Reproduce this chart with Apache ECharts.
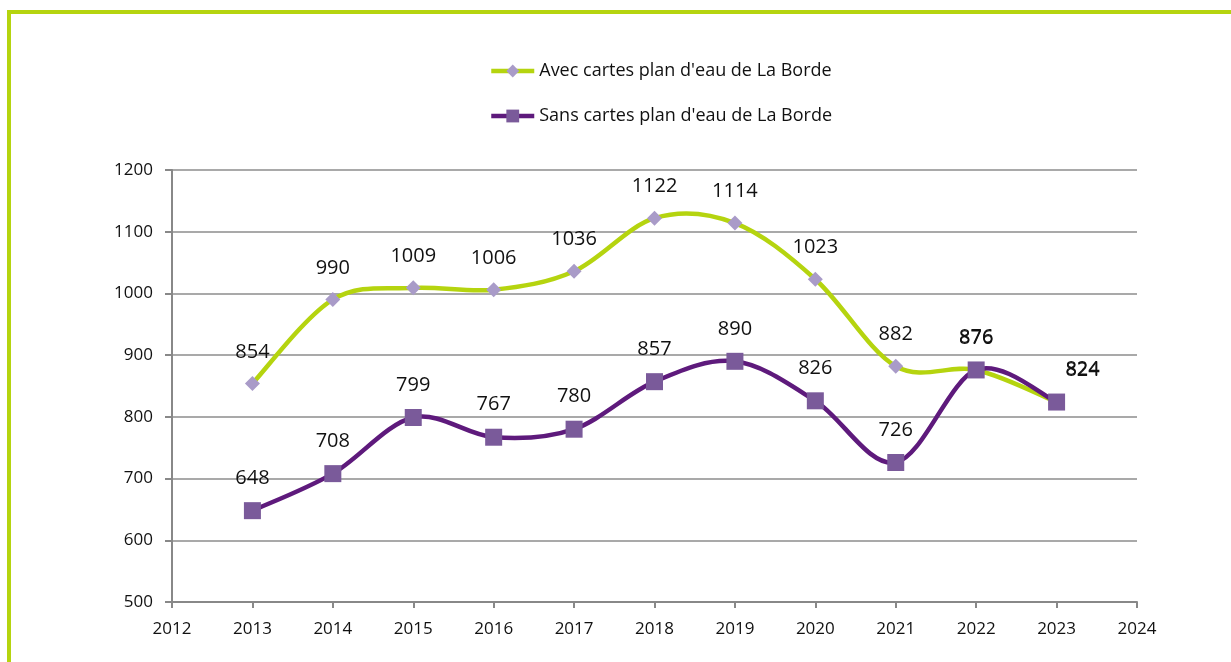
<!DOCTYPE html>
<html><head><meta charset="utf-8">
<script src="https://cdn.jsdelivr.net/npm/echarts@6/dist/echarts.min.js"></script>
<style>html,body{margin:0;padding:0;background:#fff}#c{width:1231px;height:662px}</style>
</head><body><div id="c"></div>
<script>
const years = [2013,2014,2015,2016,2017,2018,2019,2020,2021,2022,2023];
const avecName = "Avec cartes plan d'eau de La Borde";
const sansName = "Sans cartes plan d'eau de La Borde";
const avec = [854,990,1009,1006,1036,1122,1114,1023,882,876,824];
const sans = [648,708,799,767,780,857,890,826,726,876,824];

const font = "'Open Sans', 'Noto Sans', sans-serif";
const avecLine = '#b5d40f', avecMark = '#a99bc8';
const sansLine = '#5e1a7c', sansMark = '#7a5a9a';

function pointsData(vals){ return vals.map((v,i)=>[years[i], v]); }
function markData(vals){
  return vals.map((v,i)=>{
    const d = {value:[years[i], v]};
    if(i === vals.length-1){ d.label = {offset:[26,0]}; }
    return d;
  });
}
// Smooth curve (Catmull-Rom -> Bezier, like spreadsheet smoothing) computed through the axis scales
function curveSeries(vals, color){
  return {
    type:'custom', coordinateSystem:'cartesian2d', data:pointsData(vals), silent:true,
    renderItem:(params, api)=>{
      if(params.dataIndex !== 0) return null;
      const pts = vals.map((v,i)=>api.coord([years[i], v]));
      const children = [];
      for(let i=0;i<pts.length-1;i++){
        const p0 = pts[Math.max(i-1,0)], p1 = pts[i], p2 = pts[i+1], p3 = pts[Math.min(i+2, pts.length-1)];
        children.push({type:'bezierCurve', shape:{
          x1:p1[0], y1:p1[1], x2:p2[0], y2:p2[1],
          cpx1:p1[0]+(p2[0]-p0[0])/6, cpy1:p1[1]+(p2[1]-p0[1])/6,
          cpx2:p2[0]-(p3[0]-p1[0])/6, cpy2:p2[1]-(p3[1]-p1[1])/6
        }, style:{stroke:color, lineWidth:4.5, fill:null, lineCap:'round'}});
      }
      return {type:'group', children};
    }
  };
}
const labelStyle = {show:true, position:'top', fontFamily:font, fontSize:20, color:'#111', formatter:p=>p.value[1]};

const chart = echarts.init(document.getElementById('c'));
chart.setOption({
  animation:false,
  graphic:[
    {type:'polyline', shape:{points:[[9,662],[9,12],[1231,12]]}, style:{stroke:'#b5d40f', lineWidth:4, fill:null}, z:100}
  ],
  legend:{
    orient:'vertical', left:489, top:62, padding:0, itemGap:27, itemWidth:43, itemHeight:16,
    textStyle:{fontFamily:font, fontSize:18, color:'#111'},
    data:[
      {name:avecName, lineStyle:{color:avecLine, width:4.5, opacity:1}, itemStyle:{color:avecMark}},
      {name:sansName, lineStyle:{color:sansLine, width:4.5, opacity:1}, itemStyle:{color:sansMark}}
    ]
  },
  grid:{left:172, right:94, top:170, bottom:60},
  xAxis:{type:'value', min:2012, max:2024, interval:1,
    axisLine:{lineStyle:{color:'#888', width:2}},
    axisTick:{show:true, length:6, lineStyle:{color:'#888', width:2}},
    axisLabel:{fontFamily:font, fontSize:17, color:'#111', margin:19, formatter:v=>String(v)},
    splitLine:{show:false}},
  yAxis:{type:'value', min:500, max:1200, interval:100,
    axisLine:{show:true, lineStyle:{color:'#888', width:2}},
    axisTick:{show:true, length:7, lineStyle:{color:'#888', width:2}},
    axisLabel:{fontFamily:font, fontSize:17, color:'#111', margin:19, formatter:v=>String(v)},
    splitLine:{lineStyle:{color:'#8c8c8c', width:1.5}}},
  series:[
    curveSeries(avec, avecLine),
    {name:avecName, type:'line', data:markData(avec),
      lineStyle:{width:0, opacity:0, color:avecLine}, itemStyle:{color:avecMark},
      symbol:'diamond', symbolSize:15,
      label:Object.assign({distance:14}, labelStyle)},
    curveSeries(sans, sansLine),
    {name:sansName, type:'line', data:markData(sans),
      lineStyle:{width:0, opacity:0, color:sansLine}, itemStyle:{color:sansMark},
      symbol:'rect', symbolSize:17,
      label:Object.assign({distance:14}, labelStyle)}
  ]
});
</script></body></html>
